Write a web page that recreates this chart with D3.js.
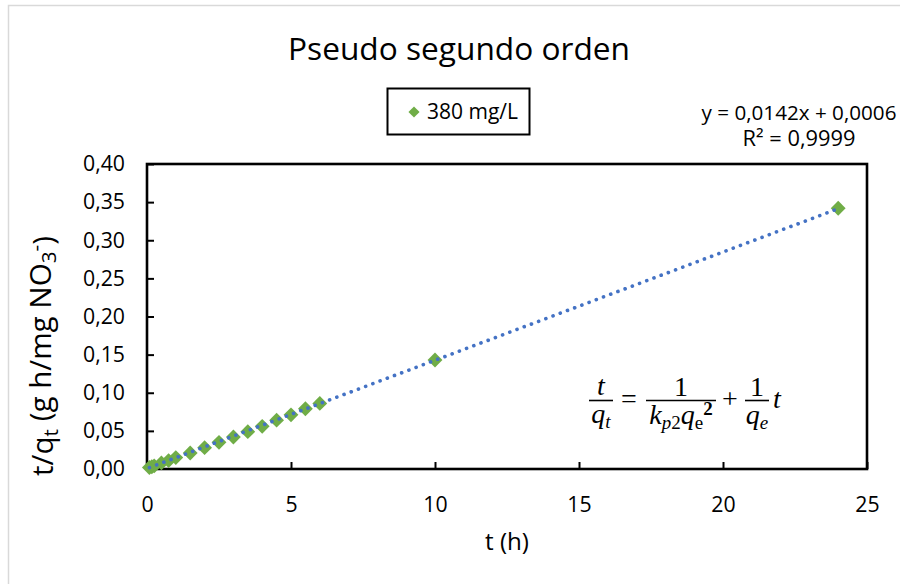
<!DOCTYPE html>
<html>
<head>
<meta charset="utf-8">
<script src="https://cdn.jsdelivr.net/npm/d3@7"></script>
<style>
  html, body { margin: 0; padding: 0; background: #fff; }
  svg { display: block; font-family: "Open Sans", "Noto Sans", sans-serif; }
</style>
</head>
<body>
<svg id="chart" width="900" height="584"></svg>
<script>
// ---- data ----
const chartTitle = "Pseudo segundo orden";
const seriesName = "380 mg/L";
const timeH = [0.083, 0.167, 0.25, 0.5, 0.75, 1, 1.5, 2, 2.5, 3, 3.5, 4, 4.5, 5, 5.5, 6, 10, 24];
const tOverQ = [0.002, 0.003, 0.004, 0.008, 0.011, 0.015, 0.021, 0.028, 0.035, 0.042, 0.049, 0.056, 0.064, 0.071, 0.079, 0.086, 0.143, 0.342];
const trendCoef = [0.0142, 0.0006];          // slope, intercept (from chart label)
const trendLabel = ["y = 0,0142x + 0,0006", "R² = 0,9999"];
const xTicks = [0, 5, 10, 15, 20, 25];
const yTicks = [0, 0.05, 0.10, 0.15, 0.20, 0.25, 0.30, 0.35, 0.40];

const green = "#70AD47", blue = "#4472C4";
const W = 900, H = 584;
const m = { left: 147, right: 33, top: 164, bottom: 115 };
const svg = d3.select("#chart");
const FONT = '"Open Sans", "Noto Sans", sans-serif';

// scale a text's font-size so its rendered width equals target
function fitWidth(sel, target) {
  const node = sel.node();
  const fs = parseFloat(sel.style("font-size"));
  const w = node.getComputedTextLength();
  const nfs = w > 0 ? fs * target / w : fs;
  sel.style("font-size", nfs + "px");
  return nfs;
}

// outer chart border (light grey)
svg.append("rect").attr("x", 8.5).attr("y", 5.5).attr("width", 1000).attr("height", 1000)
  .attr("fill", "none").attr("stroke", "#d9d9d9").attr("stroke-width", 1.5);

const x = d3.scaleLinear().domain([0, 25]).range([m.left, W - m.right]);
const y = d3.scaleLinear().domain([0, 0.4]).range([H - m.bottom, m.top]);

const loc = d3.formatLocale({ decimal: ",", thousands: ".", grouping: [3], currency: ["", ""] });
const fy = loc.format(".2f");

// axes
const gx = svg.append("g").attr("transform", `translate(0,${H - m.bottom})`)
  .call(d3.axisBottom(x).tickValues(xTicks).tickFormat(d3.format("d")).tickSizeInner(-7).tickSizeOuter(0).tickPadding(28));
const gy = svg.append("g").attr("transform", `translate(${m.left},0)`)
  .call(d3.axisLeft(y).tickValues(yTicks).tickFormat(fy).tickSizeInner(-7).tickSizeOuter(0).tickPadding(22));
[gx, gy].forEach(g => {
  g.attr("font-size", null).attr("font-family", null);
  g.select(".domain").remove();
  g.selectAll(".tick line").attr("stroke", "#000").attr("stroke-width", 2);
  g.selectAll(".tick text").attr("fill", "#000").style("font-family", FONT).style("font-size", "20px");
});
// match tick label size to the reference ("0,40" ≈ 43 px wide)
const topLabel = gy.selectAll(".tick text").filter(d => d === 0.4);
const tickFs = fitWidth(topLabel, 42);
gx.selectAll(".tick text").style("font-size", tickFs + "px");
gy.selectAll(".tick text").style("font-size", tickFs + "px");

// plot frame
svg.append("rect").attr("x", m.left).attr("y", m.top)
  .attr("width", W - m.right - m.left).attr("height", H - m.bottom - m.top)
  .attr("fill", "none").attr("stroke", "#000").attr("stroke-width", 2.6);

// points
const pts = timeH.map((t, i) => ({ t, v: tOverQ[i] }));
const diamond = d3.symbol().type(d3.symbolSquare).size(110);
svg.append("g").selectAll("path").data(pts).join("path")
  .attr("d", diamond)
  .attr("transform", d => `translate(${x(d.t)},${y(d.v)}) rotate(45)`)
  .attr("fill", green);

// trendline (dotted), drawn over markers as in Excel
const tx = d3.extent(timeH);
svg.append("line")
  .attr("x1", x(tx[0])).attr("y1", y(trendCoef[0] * tx[0] + trendCoef[1]))
  .attr("x2", x(tx[1])).attr("y2", y(trendCoef[0] * tx[1] + trendCoef[1]))
  .attr("stroke", blue).attr("stroke-width", 3.6).attr("stroke-linecap", "round")
  .attr("stroke-dasharray", "0.1 7.6");

// title
const title = svg.append("text").attr("x", 459).attr("y", 60).attr("text-anchor", "middle")
  .style("font-size", "32px").attr("fill", "#000").text(chartTitle);
fitWidth(title, 342);

// legend
svg.append("rect").attr("x", 387.5).attr("y", 88.5).attr("width", 142).attr("height", 46)
  .attr("fill", "#fff").attr("stroke", "#000").attr("stroke-width", 2);
svg.append("path").attr("d", d3.symbol().type(d3.symbolSquare).size(62))
  .attr("transform", "translate(414,112) rotate(45)").attr("fill", green);
const legText = svg.append("text").attr("x", 427).attr("y", 119).style("font-size", "20px")
  .attr("fill", "#000").text(seriesName);
fitWidth(legText, 91);

// trendline label
const eqW = [195, 113];
trendLabel.forEach((s, i) => {
  const t = svg.append("text").attr("x", 799).attr("y", 120 + i * 26).attr("text-anchor", "middle")
    .style("font-size", "20px").attr("fill", "#000").text(s);
  fitWidth(t, eqW[i]);
});

// axis titles
const xt = svg.append("text").attr("x", 507).attr("y", 550).attr("text-anchor", "middle")
  .style("font-size", "20px").attr("fill", "#000").text("t (h)");
fitWidth(xt, 44);
const yt = svg.append("text").attr("transform", "translate(53,356) rotate(-90)")
  .attr("text-anchor", "middle").style("font-size", "20px").attr("fill", "#000");
yt.append("tspan").text("t/q");
yt.append("tspan").attr("dy", "0.25em").style("font-size", "0.7em").text("t");
yt.append("tspan").attr("dy", "-0.25em").text(" (g h/mg NO");
yt.append("tspan").attr("dy", "0.25em").style("font-size", "0.7em").text("3");
yt.append("tspan").attr("dy", "-0.65em").style("font-size", "0.7em").text("-");
yt.append("tspan").attr("dy", "0.4em").text(")");
fitWidth(yt, 240);

// equation (serif, italic variables)
const eq = svg.append("g").style("font-family", '"Liberation Serif", "DejaVu Serif", serif').attr("fill", "#000");
function bar(x1, x2) {
  eq.append("line").attr("x1", x1).attr("x2", x2).attr("y1", 400.5).attr("y2", 400.5)
    .attr("stroke", "#000").attr("stroke-width", 1.6);
}
function txt(xp, yp, parts, anchor) {
  const t = eq.append("text").attr("x", xp).attr("y", yp).attr("text-anchor", anchor || "middle")
    .style("font-size", "28px");
  parts.forEach(p => {
    const s = t.append("tspan").text(p.s);
    if (p.i) s.style("font-style", "italic");
    if (p.sz) s.style("font-size", p.sz + "px");
    if (p.dy) s.attr("dy", p.dy);
    if (p.b) s.style("font-weight", "bold");
  });
  return t;
}
// t / q_t
bar(589, 613);
txt(601, 395, [{ s: "t", i: 1 }]);
txt(601, 423, [{ s: "q", i: 1 }, { s: "t", i: 1, sz: 19, dy: 5 }]);
txt(629, 408, [{ s: "=" }]);
// 1 / (k_p2 q_e^2)
bar(646, 716);
txt(681, 396, [{ s: "1" }]);
txt(681, 424, [{ s: "k", i: 1 }, { s: "p", i: 1, sz: 19, dy: 5 }, { s: "2", sz: 19 }, { s: "q", i: 1, dy: -5 }, { s: "e", sz: 19, dy: 5 }, { s: "2", sz: 19, b: 1, dy: -14 }]);
txt(730, 408, [{ s: "+" }]);
// 1 / q_e  t
bar(745, 769);
txt(757, 396, [{ s: "1" }]);
txt(757, 424, [{ s: "q", i: 1 }, { s: "e", i: 1, sz: 19, dy: 5 }]);
txt(773, 408, [{ s: "t", i: 1 }], "start");
</script>
</body>
</html>
